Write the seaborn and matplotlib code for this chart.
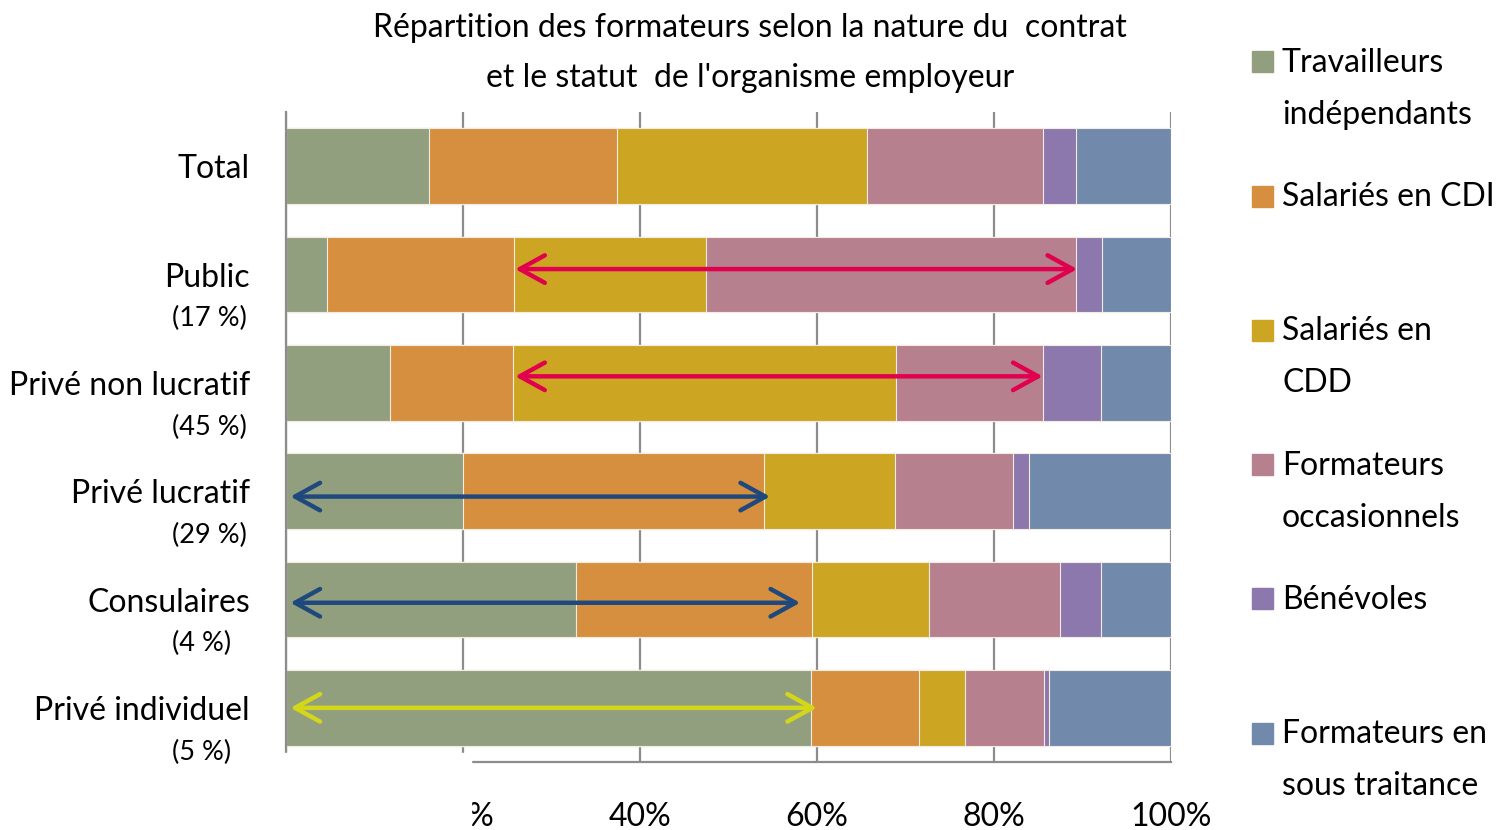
import matplotlib
matplotlib.use("Agg")
import matplotlib.pyplot as plt
from matplotlib.patches import Rectangle, FancyArrowPatch
import numpy as np
import pandas as pd
import seaborn as sns

# Data (percent of trainers)
categories = ["Total", "Public", "Privé non lucratif", "Privé lucratif", "Consulaires", "Privé individuel"]
shares = ["", "(17 %)", "(45 %)", "(29 %)", "(4 %)", "(5 %)"]
series = ["Travailleurs\nindépendants", "Salariés en CDI", "Salariés en\nCDD",
          "Formateurs\noccasionnels", "Bénévoles", "Formateurs en\nsous traitance"]
independants = [16.2, 4.6, 11.8, 20.0, 32.8, 59.3]
cdi = [21.2, 21.2, 13.9, 34.0, 26.6, 12.2]
cdd = [28.2, 21.7, 43.2, 14.8, 13.2, 5.2]
occasionnels = [19.9, 41.8, 16.6, 13.4, 14.9, 9.0]
benevoles = [3.8, 2.9, 6.6, 1.7, 4.6, 0.5]
sous_traitance = [10.7, 7.8, 7.9, 16.1, 7.9, 13.8]
colors = ["#929f7f", "#d68f3e", "#cca623", "#b7808f", "#8c78ac", "#718aab"]

# arrows: (category index, start %, end %, colour)
arrow_rows = [1, 2, 3, 4, 5]
arrow_start = [25.9, 25.9, 0.5, 0.5, 0.5]
arrow_end = [89.4, 85.5, 54.7, 58.1, 60.0]
arrow_colors = ["#e0004d", "#e0004d", "#1f497d", "#1f497d", "#d4d61a"]
arrow_dy = [-0.05, -0.06, 0.05, 0.03, 0.0]

values = np.array([independants, cdi, cdd, occasionnels, benevoles, sous_traitance])
cum = values.cumsum(axis=0)

sns.set_style("white")
plt.rcParams["font.family"] = ["Lato", "DejaVu Sans"]
plt.rcParams["text.color"] = "black"
plt.rcParams["xtick.color"] = "black"
plt.rcParams["ytick.color"] = "black"

W, H = 1501, 830
FS = 23
fig = plt.figure(figsize=(W / 100, H / 100), dpi=100)
ax = fig.add_axes([286 / W, 1 - 762 / H, (1171 - 286) / W, (762 - 112) / H])

# stacked bars: draw cumulative totals from the last series back to the first
for i in range(len(series) - 1, -1, -1):
    df = pd.DataFrame({"cat": categories, "val": cum[i]})
    sns.barplot(data=df, x="val", y="cat", orient="h", color=colors[i], saturation=1,
                width=0.7, edgecolor="#f2ece4", linewidth=0.8, ax=ax, zorder=2)

ax.set_xlim(0, 100)
ax.set_ylim(len(categories) - 0.5, -0.5)
ax.set_xlabel("")
ax.set_ylabel("")
ax.set_axisbelow(True)
ax.xaxis.grid(True, color="#8c8c8c", lw=1.6)
ax.yaxis.grid(False)
for s in ["top", "right"]:
    ax.spines[s].set_visible(False)
for s in ["left", "bottom"]:
    ax.spines[s].set_color("#8c8c8c")
    ax.spines[s].set_linewidth(1.6)
ax.set_xticks(range(0, 101, 20))
ax.set_xticklabels([f"{v}%" for v in range(0, 101, 20)])
ax.tick_params(axis="x", length=0, pad=29, labelsize=FS)
ax.tick_params(axis="y", length=0, pad=26, labelsize=FS)

# share labels under category names
for i, s in enumerate(shares):
    if s:
        ax.text(-0.129, i + 0.41, s, transform=ax.get_yaxis_transform(),
                ha="left", va="center", fontsize=19.5)

# arrows
for r, a, b, c, dy in zip(arrow_rows, arrow_start, arrow_end, arrow_colors, arrow_dy):
    arr = FancyArrowPatch((a, r + dy), (b, r + dy),
                          arrowstyle="<->,head_length=1.0,head_width=0.55",
                          mutation_scale=18, color=c, lw=3.2,
                          shrinkA=0, shrinkB=0, capstyle="round", joinstyle="round", zorder=5)
    ax.add_patch(arr)

# white block hiding the lower-left corner of the axis (as in the original)
fig.add_artist(Rectangle((250 / W, 0), (471 - 250) / W, (H - 753) / H,
                         transform=fig.transFigure, color="white", zorder=10))

# title
fig.text(750 / W, 1 - 28 / H, "Répartition des formateurs selon la nature du  contrat",
         ha="center", va="center", fontsize=FS)
fig.text(750 / W, 1 - 78 / H, "et le statut  de l'organisme employeur",
         ha="center", va="center", fontsize=FS)

# legend
for i, (lab, c) in enumerate(zip(series, colors)):
    y0 = 62 + i * 134.2
    fig.add_artist(Rectangle((1252 / W, 1 - (y0 + 10.5) / H), 21 / W, 21 / H,
                             transform=fig.transFigure, color=c))
    for k, line in enumerate(lab.split("\n")):
        fig.text(1282 / W, 1 - (y0 + 1 + k * 52) / H, line, ha="left", va="center", fontsize=FS)

fig.savefig("out.png", dpi=100)
